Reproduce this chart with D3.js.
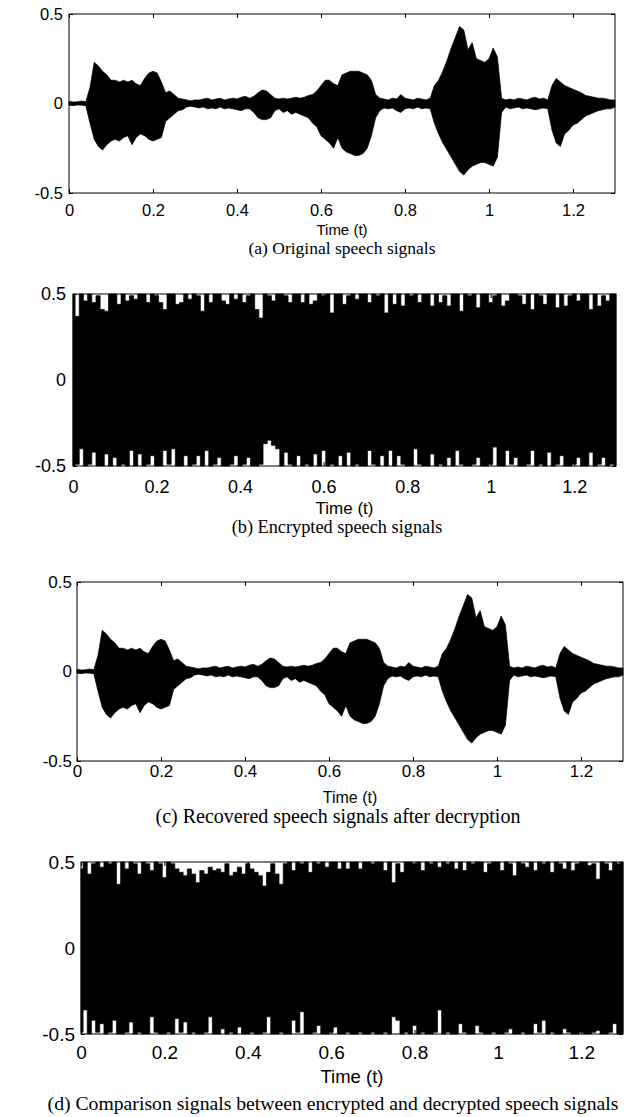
<!DOCTYPE html>
<html>
<head>
<meta charset="utf-8">
<script src="https://cdn.jsdelivr.net/npm/d3@7"></script>
<style>
  body { margin: 0; background: #fff; }
  .tick text { font-family: "Liberation Sans", Arial, sans-serif; fill: #000; }
  .tick line { stroke: #000; }
</style>
</head>
<body>
<div id="chart"></div>
<script>
// axis ticks
var timeTicks = [0, 0.2, 0.4, 0.6, 0.8, 1, 1.2];
var ampTicks = [-0.5, 0, 0.5];
var sampleStep = 0.01;   // envelope read every 0.01 s, t = 0 .. 1.30

// (a) original speech: upper / lower envelope
var originalUpper = [
  0.012, 0.008, 0.01, 0.014, 0.01, 0.09, 0.23, 0.21, 0.18, 0.16,
  0.13, 0.13, 0.12, 0.13, 0.12, 0.13, 0.11, 0.10, 0.14, 0.17,
  0.18, 0.17, 0.12, 0.06, 0.07, 0.05, 0.03, 0.025, 0.02, 0.015,
  0.02, 0.02, 0.025, 0.03, 0.02, 0.025, 0.03, 0.02, 0.025, 0.03,
  0.025, 0.035, 0.04, 0.03, 0.04, 0.06, 0.075, 0.07, 0.05, 0.03,
  0.025, 0.03, 0.025, 0.03, 0.035, 0.03, 0.035, 0.045, 0.05, 0.07,
  0.10, 0.13, 0.13, 0.11, 0.10, 0.16, 0.17, 0.18, 0.18, 0.18,
  0.17, 0.16, 0.13, 0.05, 0.03, 0.025, 0.02, 0.03, 0.025, 0.05,
  0.03, 0.025, 0.02, 0.03, 0.025, 0.02, 0.03, 0.10, 0.13, 0.18,
  0.24, 0.31, 0.37, 0.43, 0.41, 0.30, 0.34, 0.25, 0.24, 0.23,
  0.25, 0.31, 0.26, 0.03, 0.02, 0.025, 0.02, 0.03, 0.025, 0.02,
  0.03, 0.035, 0.025, 0.03, 0.02, 0.10, 0.14, 0.12, 0.10, 0.09,
  0.08, 0.07, 0.06, 0.045, 0.04, 0.035, 0.03, 0.03, 0.025, 0.02,
  0.02
];
var originalLower = [
  -0.01, -0.012, -0.008, -0.01, -0.012, -0.11, -0.20, -0.24, -0.26, -0.23,
  -0.21, -0.20, -0.21, -0.19, -0.18, -0.23, -0.19, -0.17, -0.18, -0.20,
  -0.21, -0.20, -0.19, -0.10, -0.08, -0.06, -0.04, -0.035, -0.02, -0.015,
  -0.02, -0.025, -0.02, -0.03, -0.025, -0.03, -0.02, -0.03, -0.025, -0.03,
  -0.035, -0.04, -0.03, -0.03, -0.05, -0.08, -0.09, -0.09, -0.08, -0.04,
  -0.03, -0.05, -0.04, -0.06, -0.05, -0.06, -0.07, -0.08, -0.11, -0.13,
  -0.18, -0.20, -0.22, -0.25, -0.19, -0.25, -0.27, -0.28, -0.29, -0.29,
  -0.28, -0.25, -0.18, -0.08, -0.04, -0.025, -0.03, -0.025, -0.04, -0.05,
  -0.03, -0.025, -0.03, -0.02, -0.03, -0.025, -0.03, -0.11, -0.17, -0.22,
  -0.26, -0.30, -0.34, -0.38, -0.40, -0.37, -0.35, -0.34, -0.33, -0.33,
  -0.34, -0.35, -0.30, -0.05, -0.02, -0.03, -0.025, -0.02, -0.03, -0.025,
  -0.03, -0.035, -0.03, -0.025, -0.03, -0.15, -0.22, -0.24, -0.17, -0.15,
  -0.12, -0.11, -0.09, -0.07, -0.06, -0.05, -0.04, -0.035, -0.03, -0.03,
  -0.02
];

// (b) encrypted speech
var encryptedUpper = [
  0.50, 0.37, 0.50, 0.46, 0.50, 0.45, 0.49, 0.41, 0.40, 0.50,
  0.50, 0.44, 0.50, 0.46, 0.49, 0.47, 0.50, 0.50, 0.45, 0.50,
  0.49, 0.45, 0.41, 0.50, 0.50, 0.44, 0.45, 0.50, 0.47, 0.50,
  0.49, 0.40, 0.50, 0.45, 0.50, 0.50, 0.46, 0.44, 0.50, 0.47,
  0.50, 0.45, 0.49, 0.50, 0.41, 0.36, 0.50, 0.49, 0.46, 0.50,
  0.50, 0.49, 0.45, 0.50, 0.50, 0.45, 0.50, 0.44, 0.46, 0.50,
  0.49, 0.50, 0.39, 0.50, 0.50, 0.44, 0.49, 0.50, 0.47, 0.50,
  0.50, 0.45, 0.50, 0.49, 0.50, 0.39, 0.50, 0.44, 0.50, 0.43,
  0.50, 0.49, 0.50, 0.45, 0.50, 0.50, 0.43, 0.50, 0.45, 0.49,
  0.43, 0.50, 0.50, 0.40, 0.50, 0.49, 0.50, 0.42, 0.50, 0.50,
  0.45, 0.49, 0.50, 0.43, 0.46, 0.50, 0.50, 0.49, 0.44, 0.50,
  0.41, 0.50, 0.49, 0.44, 0.50, 0.50, 0.42, 0.50, 0.43, 0.49,
  0.50, 0.46, 0.50, 0.50, 0.41, 0.50, 0.43, 0.49, 0.46, 0.50,
  0.50
];
var encryptedLower = [
  -0.50, -0.49, -0.40, -0.50, -0.49, -0.42, -0.50, -0.50, -0.43, -0.50,
  -0.45, -0.50, -0.49, -0.50, -0.41, -0.50, -0.43, -0.50, -0.49, -0.44,
  -0.50, -0.50, -0.41, -0.49, -0.40, -0.50, -0.50, -0.44, -0.50, -0.49,
  -0.44, -0.50, -0.41, -0.50, -0.49, -0.45, -0.50, -0.50, -0.49, -0.44,
  -0.50, -0.49, -0.45, -0.50, -0.50, -0.49, -0.37, -0.35, -0.38, -0.40,
  -0.50, -0.42, -0.49, -0.50, -0.44, -0.50, -0.49, -0.50, -0.43, -0.50,
  -0.41, -0.50, -0.49, -0.50, -0.44, -0.50, -0.42, -0.50, -0.49, -0.50,
  -0.50, -0.41, -0.49, -0.50, -0.44, -0.50, -0.41, -0.50, -0.44, -0.49,
  -0.50, -0.50, -0.40, -0.49, -0.50, -0.50, -0.43, -0.50, -0.49, -0.50,
  -0.45, -0.50, -0.41, -0.49, -0.50, -0.50, -0.49, -0.45, -0.50, -0.50,
  -0.49, -0.39, -0.50, -0.50, -0.41, -0.49, -0.45, -0.50, -0.50, -0.49,
  -0.41, -0.50, -0.49, -0.50, -0.42, -0.50, -0.49, -0.44, -0.50, -0.50,
  -0.49, -0.45, -0.50, -0.50, -0.42, -0.50, -0.49, -0.45, -0.50, -0.49,
  -0.50
];

// (c) recovered speech after decryption (same envelope as the original)
var recoveredUpper = originalUpper.slice();
var recoveredLower = originalLower.slice();

// (d) comparison signals
var comparisonUpper = [
  0.46, 0.50, 0.43, 0.49, 0.50, 0.47, 0.50, 0.49, 0.50, 0.37,
  0.50, 0.46, 0.50, 0.49, 0.43, 0.50, 0.49, 0.45, 0.50, 0.49,
  0.41, 0.50, 0.49, 0.46, 0.44, 0.42, 0.46, 0.43, 0.38, 0.45,
  0.43, 0.47, 0.45, 0.46, 0.44, 0.49, 0.42, 0.44, 0.47, 0.43,
  0.49, 0.46, 0.44, 0.42, 0.36, 0.44, 0.49, 0.43, 0.37, 0.49,
  0.50, 0.45, 0.50, 0.49, 0.50, 0.44, 0.50, 0.49, 0.50, 0.47,
  0.50, 0.50, 0.46, 0.50, 0.46, 0.50, 0.50, 0.46, 0.50, 0.50,
  0.49, 0.50, 0.50, 0.45, 0.50, 0.38, 0.49, 0.44, 0.50, 0.50,
  0.49, 0.50, 0.45, 0.50, 0.49, 0.50, 0.47, 0.50, 0.49, 0.50,
  0.46, 0.50, 0.45, 0.50, 0.49, 0.50, 0.50, 0.44, 0.49, 0.50,
  0.50, 0.45, 0.50, 0.49, 0.42, 0.50, 0.49, 0.47, 0.50, 0.45,
  0.50, 0.49, 0.50, 0.44, 0.50, 0.49, 0.46, 0.50, 0.45, 0.49,
  0.50, 0.50, 0.48, 0.49, 0.40, 0.50, 0.49, 0.45, 0.50, 0.49,
  0.50
];
var comparisonLower = [
  -0.49, -0.36, -0.50, -0.42, -0.49, -0.44, -0.50, -0.49, -0.42, -0.50,
  -0.50, -0.49, -0.43, -0.50, -0.49, -0.50, -0.50, -0.40, -0.49, -0.50,
  -0.50, -0.49, -0.50, -0.41, -0.49, -0.43, -0.50, -0.49, -0.50, -0.50,
  -0.49, -0.40, -0.50, -0.50, -0.47, -0.50, -0.49, -0.50, -0.46, -0.50,
  -0.50, -0.49, -0.50, -0.50, -0.49, -0.40, -0.50, -0.50, -0.49, -0.50,
  -0.50, -0.42, -0.49, -0.37, -0.50, -0.50, -0.49, -0.45, -0.50, -0.50,
  -0.49, -0.46, -0.50, -0.50, -0.49, -0.50, -0.50, -0.49, -0.50, -0.50,
  -0.49, -0.50, -0.50, -0.49, -0.50, -0.40, -0.42, -0.50, -0.49, -0.50,
  -0.45, -0.50, -0.49, -0.50, -0.50, -0.49, -0.36, -0.50, -0.49, -0.50,
  -0.50, -0.44, -0.49, -0.50, -0.50, -0.45, -0.49, -0.50, -0.50, -0.49,
  -0.50, -0.50, -0.49, -0.47, -0.50, -0.50, -0.49, -0.50, -0.50, -0.44,
  -0.49, -0.42, -0.50, -0.49, -0.50, -0.50, -0.47, -0.49, -0.50, -0.50,
  -0.49, -0.50, -0.50, -0.49, -0.48, -0.50, -0.50, -0.49, -0.44, -0.50,
  -0.50
];

var captions = [
  "(a) Original speech signals",
  "(b) Encrypted speech signals",
  "(c) Recovered speech signals after decryption",
  "(d) Comparison signals between encrypted and decrypted speech signals"
];

// layout of the four stacked panels
var panels = [
  {upper: originalUpper, lower: originalLower, caption: captions[0], curve: d3.curveLinear,
   left: 69, top: 14, right: 615, bottom: 193, tickFont: 16.5, labelFont: 15, capFont: 17.5, capX: 342,
   yPad: 6, tickGap: 17, labelGap: 37, capGap: 55},
  {upper: encryptedUpper, lower: encryptedLower, caption: captions[1], curve: d3.curveStep,
   left: 73, top: 294, right: 616, bottom: 466, tickFont: 18, labelFont: 17, capFont: 18.3, capX: 337,
   yPad: 7, tickGap: 21, labelGap: 42, capGap: 61},
  {upper: recoveredUpper, lower: recoveredLower, caption: captions[2], curve: d3.curveLinear,
   left: 77, top: 582, right: 623, bottom: 761, tickFont: 17, labelFont: 16, capFont: 20, capX: 338,
   yPad: 5, tickGap: 10, labelGap: 36, capGap: 55},
  {upper: comparisonUpper, lower: comparisonLower, caption: captions[3], curve: d3.curveStep,
   left: 81, top: 862, right: 623, bottom: 1034, tickFont: 19, labelFont: 18.5, capFont: 19.7, capX: 333,
   yPad: 6, tickGap: 18, labelGap: 43, capGap: 69}
];

var fmt = function(d) { return String(d); };   // keeps the plain hyphen in "-0.5"

var svg = d3.select("#chart").append("svg")
    .attr("width", 624)
    .attr("height", 1117)
    .style("display", "block");

panels.forEach(function(p) {
    var x = d3.scaleLinear().domain([0, 1.3]).range([p.left, p.right]);
    var y = d3.scaleLinear().domain([-0.5, 0.5]).range([p.bottom, p.top]);
    var g = svg.append("g");

    // the signal, drawn as its envelope
    var area = d3.area()
        .curve(p.curve)
        .x(function(d, i) { return x(i * sampleStep); })
        .y0(function(d, i) { return y(p.lower[i]); })
        .y1(function(d) { return y(d); });
    g.append("path")
        .datum(p.upper)
        .attr("d", area)
        .attr("fill", "#000")
        .attr("stroke", "#000")
        .attr("stroke-width", 0.7);

    // MATLAB style box with inward ticks
    var pad = p.tickGap - 0.35 * p.tickFont;
    g.append("g")
        .attr("transform", "translate(0," + p.bottom + ")")
        .call(d3.axisBottom(x).tickValues(timeTicks).tickSizeInner(-4).tickSizeOuter(0)
            .tickPadding(pad).tickFormat(fmt))
        .call(function(s) { s.select(".domain").remove(); })
        .selectAll("text").style("font-size", p.tickFont + "px");
    g.append("g")
        .attr("transform", "translate(0," + p.top + ")")
        .call(d3.axisTop(x).tickValues(timeTicks).tickSizeInner(-4).tickSizeOuter(0).tickFormat(""))
        .call(function(s) { s.select(".domain").remove(); });
    g.append("g")
        .attr("transform", "translate(" + p.left + ",0)")
        .call(d3.axisLeft(y).tickValues(ampTicks).tickSizeInner(-4).tickSizeOuter(0)
            .tickPadding(p.yPad).tickFormat(fmt))
        .call(function(s) { s.select(".domain").remove(); })
        .selectAll("text").style("font-size", p.tickFont + "px");
    g.append("g")
        .attr("transform", "translate(" + p.right + ",0)")
        .call(d3.axisRight(y).tickValues(ampTicks).tickSizeInner(-4).tickSizeOuter(0).tickFormat(""))
        .call(function(s) { s.select(".domain").remove(); });

    g.append("rect")
        .attr("x", p.left).attr("y", p.top)
        .attr("width", p.right - p.left).attr("height", p.bottom - p.top)
        .attr("fill", "none").attr("stroke", "#000").attr("stroke-width", 1);

    // axis label and caption
    g.append("text")
        .attr("x", (p.left + p.right) / 2).attr("y", p.bottom + p.labelGap)
        .attr("dy", "0.35em")
        .attr("text-anchor", "middle")
        .style("font-family", "'Liberation Sans', Arial, sans-serif")
        .style("font-size", p.labelFont + "px")
        .text("Time (t)");
    g.append("text")
        .attr("x", p.capX).attr("y", p.bottom + p.capGap)
        .attr("dy", "0.35em")
        .attr("text-anchor", "middle")
        .style("font-family", "'Liberation Serif', 'Times New Roman', serif")
        .style("font-size", p.capFont + "px")
        .text(p.caption);
});
</script>
</body>
</html>
